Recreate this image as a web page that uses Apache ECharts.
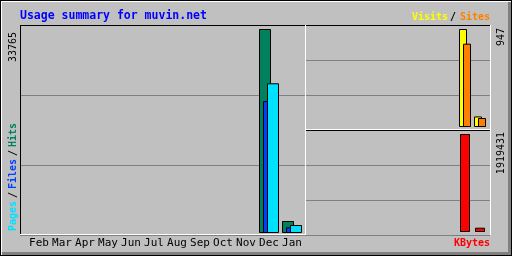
<!DOCTYPE html>
<html><head><meta charset="utf-8">
<script src="https://cdn.jsdelivr.net/npm/echarts@6/dist/echarts.min.js"></script>
<style>html,body{margin:0;padding:0;background:#c0c0c0}#c{width:512px;height:256px}</style>
</head><body><div id="c"></div>
<script>
const title = 'Usage summary for muvin.net';
const months = ['Feb','Mar','Apr','May','Jun','Jul','Aug','Sep','Oct','Nov','Dec','Jan'];
const hits   = [null,null,null,null,null,null,null,null,null,null,33765,1986];
const files  = [null,null,null,null,null,null,null,null,null,null,21850,940];
const pages  = [null,null,null,null,null,null,null,null,null,null,24780,1320];
const visits = [null,null,null,null,null,null,null,null,null,null,947,102];
const sites  = [null,null,null,null,null,null,null,null,null,null,805,87];
const kbytes = [null,null,null,null,null,null,null,null,null,null,1919431,84000];

const C = {hits:'#00805c', files:'#0040ff', pages:'#00e0ff', visits:'#ffff00', sites:'#ff8000', kbytes:'#ff0000'};
const maxOf = a => Math.max.apply(null, a.filter(v => v != null));
const hitsMax = maxOf(hits), visitsMax = maxOf(visits), kbMax = maxOf(kbytes);

const MONO = '"DejaVu Sans Mono", monospace';
const chart = echarts.init(document.getElementById('c'), null, {renderer:'canvas'});

function frameAxes(gi){
  return {
    x:{type:'value', gridIndex:gi, show:false, min:0, max:1},
    y:{type:'value', gridIndex:gi, min:0, max:3, interval:1, axisLabel:{show:false}, axisLine:{show:false}, axisTick:{show:false},
       splitLine:{show:true, lineStyle:{color:'#808080', width:1}}}
  };
}
const f0 = frameAxes(0), f2 = frameAxes(2), f4 = frameAxes(4);
const barStyle = c => ({color:c, borderColor:'#000', borderWidth:1});
const shadow = {textShadowColor:'#808080', textShadowOffsetX:1, textShadowOffsetY:1, textShadowBlur:0};
function rect(x,y,w,h,fill,z){ return {type:'rect', silent:true, z:z||50, shape:{x:x,y:y,width:w,height:h}, style:{fill:fill}}; }
function txt(x,y,text,fill,font,align,va,rot,extra){
  return {type:'text', silent:true, z:60, x:x, y:y, rotation:rot||0,
    style:Object.assign({text:text, fill:fill, font:font, align:align||'left', verticalAlign:va||'middle'}, extra||{})};
}

const option = {
  animation:false,
  backgroundColor:'#c0c0c0',
  grid:[
    {left:20, top:25, width:285, height:210},
    {left:27.5, top:29, width:276, height:204},
    {left:305, top:25, width:185, height:105},
    {left:307.5, top:29, width:180, height:98},
    {left:305, top:130, width:185, height:105},
    {left:307.5, top:134, width:180, height:98}
  ],
  xAxis:[
    f0.x,
    {type:'category', gridIndex:1, data:months, axisLine:{show:false}, axisTick:{show:false},
     axisLabel:{show:true, interval:0, margin:5, color:'#000', fontFamily:'DejaVu Sans Mono', fontSize:11}},
    f2.x,
    {type:'category', gridIndex:3, data:months, show:false},
    f4.x,
    {type:'category', gridIndex:5, data:months, show:false}
  ],
  yAxis:[
    f0.y,
    {type:'value', gridIndex:1, min:0, max:hitsMax, show:false, splitLine:{show:false}},
    f2.y,
    {type:'value', gridIndex:3, min:0, max:visitsMax, show:false, splitLine:{show:false}},
    f4.y,
    {type:'value', gridIndex:5, min:0, max:kbMax, show:false, splitLine:{show:false}}
  ],
  series:[
    {type:'bar', name:'Hits', xAxisIndex:1, yAxisIndex:1, data:hits, barWidth:12, barGap:'-66.6667%', itemStyle:barStyle(C.hits), silent:true},
    {type:'bar', name:'Files', xAxisIndex:1, yAxisIndex:1, data:files, barWidth:12, barGap:'-66.6667%', itemStyle:barStyle(C.files), silent:true},
    {type:'bar', name:'Pages', xAxisIndex:1, yAxisIndex:1, data:pages, barWidth:12, barGap:'-66.6667%', itemStyle:barStyle(C.pages), silent:true},
    {type:'bar', name:'Visits', xAxisIndex:3, yAxisIndex:3, data:visits, barWidth:8, barGap:'-50%', itemStyle:barStyle(C.visits), silent:true},
    {type:'bar', name:'Sites', xAxisIndex:3, yAxisIndex:3, data:sites, barWidth:8, barGap:'-50%', itemStyle:barStyle(C.sites), silent:true},
    {type:'bar', name:'KBytes', xAxisIndex:5, yAxisIndex:5, data:kbytes, barWidth:10, itemStyle:barStyle(C.kbytes), silent:true}
  ],
  graphic:[
    rect(0,0,512,1,'#000'), rect(0,255,512,1,'#000'), rect(0,0,1,256,'#000'), rect(511,0,1,256,'#000'),
    rect(1,1,510,1,'#ffffff'), rect(1,1,1,254,'#ffffff'),
    rect(508,2,3,253,'#808080'), rect(2,252,509,3,'#808080'),
    rect(20,25,286,1,'#000'), rect(20,25,1,210,'#000'), rect(20,234,286,1,'#fff'), rect(305,25,1,210,'#fff'),
    rect(306,25,185,1,'#000'), rect(490,25,1,105,'#fff'), rect(306,129,185,1,'#fff'),
    rect(306,130,185,1,'#000'), rect(490,130,1,105,'#fff'),
    txt(20,16,title,'#0000ff','bold 11.5px '+MONO,'left','middle'),
    txt(412,17,'Visits',C.visits,'bold 10px '+MONO,'left','middle',0,shadow),
    txt(453,17,'/','#000','bold 10px '+MONO,'center','middle'),
    txt(490,17,'Sites',C.sites,'bold 10px '+MONO,'right','middle',0,shadow),
    txt(490,243,'KBytes',C.kbytes,'bold 10px '+MONO,'right','middle',0,shadow),
    txt(13,231,'Pages',C.pages,'bold 10px '+MONO,'left','middle',Math.PI/2,shadow),
    txt(13,198,'/','#000','bold 10px '+MONO,'left','middle',Math.PI/2),
    txt(13,189,'Files',C.files,'bold 10px '+MONO,'left','middle',Math.PI/2,shadow),
    txt(13,156,'/','#000','bold 10px '+MONO,'left','middle',Math.PI/2),
    txt(13,147,'Hits',C.hits,'bold 10px '+MONO,'left','middle',Math.PI/2,shadow),
    txt(13,32,String(hitsMax),'#000','10px '+MONO,'right','middle',Math.PI/2),
    txt(501,28,String(visitsMax),'#000','10px '+MONO,'right','middle',Math.PI/2),
    txt(501,132,String(kbMax),'#000','10px '+MONO,'right','middle',Math.PI/2)
  ]
};
chart.setOption(option);
</script>
</body></html>
